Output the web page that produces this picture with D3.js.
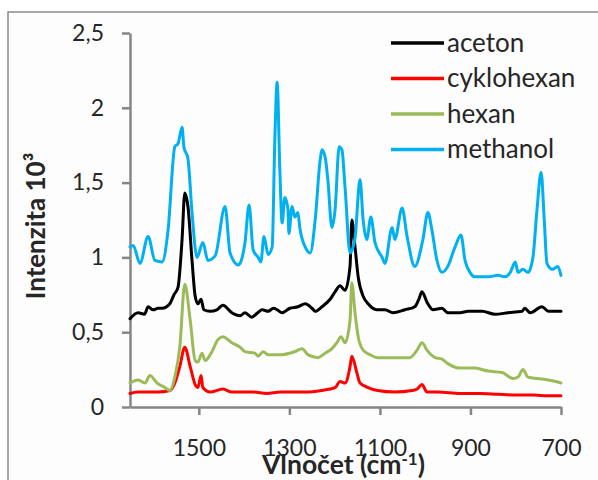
<!DOCTYPE html>
<html>
<head>
<meta charset="utf-8">
<script src="https://cdn.jsdelivr.net/npm/d3@7"></script>
<style>
  html, body { margin: 0; padding: 0; background: #ffffff; }
  svg { display: block; }
  text { font-family: Lato, "Open Sans", sans-serif; fill: #262626; }
</style>
</head>
<body>
<div id="chart"></div>
<script>
// ---- data (wavenumber cm-1, intensity x10^3) ----
const seriesNames = ["aceton", "cyklohexan", "hexan", "methanol"];
const seriesColors = ["#000000", "#ff0000", "#9bbb59", "#00b0f0"];
const yTicks = [0, 0.5, 1, 1.5, 2, 2.5];
const xTicks = [1500, 1300, 1100, 900, 700];
const xDomain = [1652, 700];
const yDomain = [0, 2.5];

const aceton = [
  [1652,0.59],[1634,0.63],[1620,0.62],[1612,0.67],[1601,0.65],[1590,0.66],[1581,0.66],[1564,0.69],[1555,0.75],
  [1546,0.80],[1537,1.12],[1531,1.43],[1524,1.34],[1515,0.98],[1508,0.74],[1502,0.69],[1495,0.72],[1489,0.65],
  [1475,0.64],[1460,0.65],[1447,0.68],[1427,0.63],[1409,0.61],[1398,0.63],[1383,0.60],[1370,0.63],[1360,0.65],
  [1347,0.64],[1335,0.66],[1327,0.65],[1316,0.63],[1299,0.66],[1281,0.67],[1265,0.69],[1250,0.66],[1243,0.64],
  [1228,0.67],[1210,0.72],[1199,0.77],[1188,0.81],[1177,0.78],[1166,0.94],[1162,1.25],[1155,1.07],[1148,0.87],
  [1137,0.74],[1126,0.69],[1107,0.65],[1089,0.65],[1071,0.63],[1045,0.65],[1023,0.67],[1014,0.72],[1007,0.77],
  [996,0.70],[983,0.65],[963,0.66],[950,0.63],[923,0.63],[905,0.64],[874,0.64],[846,0.62],[817,0.63],[786,0.64],
  [780,0.66],[768,0.63],[742,0.67],[728,0.64],[700,0.64]
];
const cyklohexan = [
  [1652,0.09],[1635,0.10],[1619,0.10],[1605,0.10],[1590,0.10],[1564,0.11],[1553,0.16],[1542,0.27],[1531,0.40],
  [1519,0.27],[1508,0.15],[1502,0.13],[1495,0.21],[1491,0.13],[1475,0.10],[1447,0.12],[1427,0.10],[1409,0.10],
  [1380,0.10],[1350,0.09],[1320,0.10],[1290,0.10],[1260,0.10],[1230,0.11],[1210,0.12],[1199,0.13],[1188,0.17],
  [1177,0.16],[1166,0.27],[1162,0.34],[1151,0.23],[1144,0.16],[1126,0.13],[1105,0.11],[1067,0.10],[1029,0.11],
  [1018,0.12],[1007,0.15],[996,0.10],[972,0.10],[923,0.09],[880,0.09],[840,0.085],[800,0.08],[760,0.08],
  [730,0.075],[700,0.075]
];
const hexan = [
  [1652,0.16],[1634,0.18],[1619,0.16],[1608,0.21],[1592,0.16],[1575,0.13],[1564,0.11],[1553,0.20],[1542,0.40],
  [1531,0.82],[1519,0.58],[1508,0.31],[1502,0.30],[1493,0.36],[1486,0.31],[1471,0.37],[1458,0.45],[1447,0.47],
  [1427,0.43],[1409,0.40],[1398,0.37],[1376,0.36],[1369,0.34],[1358,0.37],[1347,0.35],[1316,0.35],[1288,0.37],
  [1272,0.39],[1259,0.35],[1237,0.33],[1221,0.36],[1206,0.39],[1195,0.43],[1186,0.47],[1177,0.43],[1166,0.58],
  [1162,0.83],[1155,0.63],[1148,0.47],[1137,0.38],[1122,0.35],[1105,0.33],[1073,0.33],[1051,0.33],[1034,0.33],
  [1018,0.38],[1007,0.43],[996,0.38],[978,0.33],[963,0.32],[950,0.29],[923,0.26],[890,0.26],[861,0.24],
  [830,0.23],[806,0.19],[795,0.20],[784,0.25],[773,0.20],[751,0.19],[728,0.18],[712,0.17],[700,0.16]
];
const methanol = [
  [1652,1.07],[1645,1.08],[1630,0.96],[1612,1.14],[1597,0.98],[1581,0.97],[1568,1.18],[1553,1.74],[1546,1.76],
  [1537,1.87],[1533,1.74],[1524,1.66],[1515,1.30],[1504,1.00],[1491,1.10],[1480,0.98],[1464,1.01],[1442,1.34],
  [1431,1.03],[1413,0.95],[1409,0.96],[1398,1.10],[1389,1.35],[1380,1.05],[1369,1.00],[1363,0.97],[1356,1.14],
  [1347,1.02],[1338,1.07],[1332,1.80],[1327,2.17],[1321,1.58],[1316,1.23],[1310,1.40],[1303,1.32],[1301,1.16],
  [1294,1.34],[1288,1.27],[1281,1.30],[1277,1.20],[1265,1.07],[1254,1.03],[1243,1.25],[1232,1.65],[1228,1.72],
  [1221,1.67],[1215,1.52],[1206,1.20],[1199,1.32],[1190,1.74],[1184,1.72],[1177,1.47],[1166,1.03],[1155,1.13],
  [1144,1.52],[1137,1.25],[1129,1.12],[1120,1.27],[1111,1.10],[1095,1.00],[1089,0.96],[1073,1.20],[1067,1.12],
  [1051,1.33],[1040,1.14],[1023,0.94],[1005,1.12],[994,1.30],[985,1.18],[974,0.98],[963,0.90],[950,0.94],
  [934,1.07],[921,1.15],[912,0.98],[901,0.90],[890,0.87],[861,0.87],[839,0.88],[824,0.87],[812,0.90],[801,0.97],
  [795,0.90],[784,0.92],[773,0.90],[762,1.00],[753,1.32],[744,1.57],[737,1.25],[731,0.96],[719,0.92],[707,0.94],
  [700,0.88]
];
const seriesData = [aceton, cyklohexan, hexan, methanol];

// ---- layout ----
const W = 598, H = 480;
const svg = d3.select("#chart").append("svg").attr("width", W).attr("height", H);

svg.append("rect").attr("x", 0).attr("y", 0).attr("width", W).attr("height", H).attr("fill", "#ffffff");
// chart area frame (continues past the window edges)
svg.append("rect").attr("x", 8).attr("y", 12).attr("width", 700).attr("height", 600)
  .attr("fill", "#fdfdfd").attr("stroke", "#8a8a8a").attr("stroke-width", 1.5);

const x = d3.scaleLinear().domain(xDomain).range([130, 561]);
const y = d3.scaleLinear().domain(yDomain).range([407, 33]);

const locale = d3.formatLocale({decimal: ",", thousands: "", grouping: [3], currency: ["", ""]});
const yFmt = v => locale.format("~g")(v);

const axisColor = "#868686";

const gx = svg.append("g").attr("transform", "translate(0,407)")
  .call(d3.axisBottom(x).tickValues(xTicks).tickSize(8).tickSizeOuter(0).tickPadding(25).tickFormat(d3.format("d")));
const gy = svg.append("g").attr("transform", "translate(130,0)")
  .call(d3.axisLeft(y).tickValues(yTicks).tickSize(8).tickSizeOuter(0).tickPadding(18).tickFormat(yFmt));

[gx, gy].forEach(g => {
  g.selectAll("path, line").attr("stroke", axisColor).attr("stroke-width", 2.5);
  g.selectAll("text").attr("font-family", "Lato, sans-serif").attr("font-size", 23).attr("fill", "#262626");
});

// data lines (smoothed like the original spreadsheet chart)
const line = d3.line().x(d => x(d[0])).y(d => y(d[1])).curve(d3.curveMonotoneX);
seriesData.forEach((data, i) => {
  svg.append("path").datum(data)
    .attr("fill", "none").attr("stroke", seriesColors[i]).attr("stroke-width", 3)
    .attr("stroke-linejoin", "round").attr("stroke-linecap", "round")
    .attr("d", line);
});

// legend
const legend = svg.append("g");
seriesNames.forEach((name, i) => {
  const ly = 43 + i * 35.5;
  legend.append("line").attr("x1", 391).attr("x2", 444).attr("y1", ly).attr("y2", ly)
    .attr("stroke", seriesColors[i]).attr("stroke-width", 3.5);
  legend.append("text").attr("x", 447).attr("y", ly).attr("dy", "0.33em")
    .attr("font-size", 26).text(name);
});

// axis titles
svg.append("text")
  .attr("transform", "translate(45,226) rotate(-90)")
  .attr("text-anchor", "middle").attr("font-weight", "bold").attr("font-size", 26)
  .text("Intenzita 10³");

const xt = svg.append("text").attr("x", 262).attr("y", 474)
  .attr("font-weight", "bold").attr("font-size", 26.5);
xt.append("tspan").text("Vlnočet (cm");
xt.append("tspan").attr("dy", -9).attr("font-size", 17).text("-1");
xt.append("tspan").attr("dy", 9).text(")");
</script>
</body>
</html>
